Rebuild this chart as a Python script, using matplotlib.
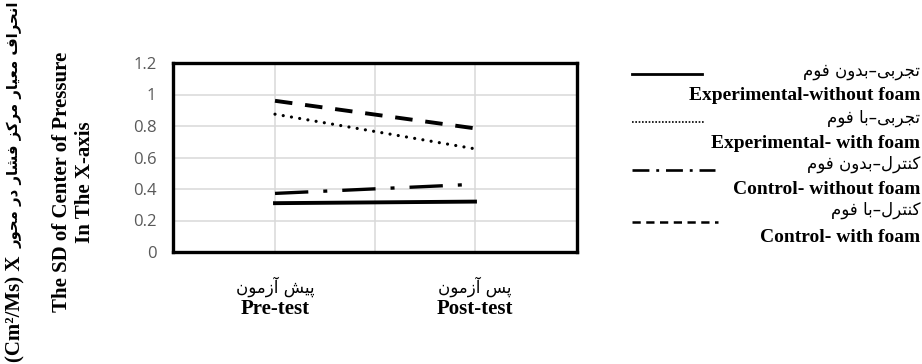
import matplotlib
matplotlib.use('Agg')
import matplotlib.pyplot as plt
from matplotlib.lines import Line2D

# data
phases_fa = ['پیش آزمون', 'پس آزمون']
phases_en = ['Pre-test', 'Post-test']
groups_fa = ['تجربی–بدون فوم', 'تجربی–با فوم', 'کنترل–بدون فوم', 'کنترل–با فوم']
groups_en = ['Experimental-without foam', 'Experimental- with foam',
             'Control- without foam', 'Control- with foam']
exp_no_foam = [0.31, 0.32]
exp_foam = [0.875, 0.655]
ctrl_no_foam = [0.372, 0.43]
ctrl_foam = [0.96, 0.785]
yticks = [0, 0.2, 0.4, 0.6, 0.8, 1, 1.2]
ytick_labels = ['0', '0.2', '0.4', '0.6', '0.8', '1', '1.2']
ylabel_fa = 'انحراف معیار مرکز فشار در محور'
ylabel_unit = '(Cm²/Ms) X'
ylabel_en = ['The SD of Center of Pressure', 'In The X-axis']

# tiny arabic shaper (matplotlib has no shaping / rtl)
FORMS = {
    'ا': (0xFE8D, 0xFE8E), 'آ': (0xFE81, 0xFE82), 'د': (0xFEA9, 0xFEAA),
    'ر': (0xFEAD, 0xFEAE), 'ز': (0xFEAF, 0xFEB0), 'و': (0xFEED, 0xFEEE),
    'ب': (0xFE8F, 0xFE90, 0xFE91, 0xFE92), 'پ': (0xFB56, 0xFB57, 0xFB58, 0xFB59),
    'ت': (0xFE95, 0xFE96, 0xFE97, 0xFE98), 'ج': (0xFE9D, 0xFE9E, 0xFE9F, 0xFEA0),
    'ح': (0xFEA1, 0xFEA2, 0xFEA3, 0xFEA4), 'س': (0xFEB1, 0xFEB2, 0xFEB3, 0xFEB4),
    'ش': (0xFEB5, 0xFEB6, 0xFEB7, 0xFEB8), 'ع': (0xFEC9, 0xFECA, 0xFECB, 0xFECC),
    'ف': (0xFED1, 0xFED2, 0xFED3, 0xFED4), 'ک': (0xFB8E, 0xFB8F, 0xFB90, 0xFB91),
    'ل': (0xFEDD, 0xFEDE, 0xFEDF, 0xFEE0), 'م': (0xFEE1, 0xFEE2, 0xFEE3, 0xFEE4),
    'ن': (0xFEE5, 0xFEE6, 0xFEE7, 0xFEE8), 'ی': (0xFBFC, 0xFBFD, 0xFBFE, 0xFBFF),
}


def fa(s):
    out = []
    for i, c in enumerate(s):
        if c not in FORMS:
            out.append(c)
            continue
        f = FORMS[c]
        prev = s[i - 1] if i > 0 else None
        nxt = s[i + 1] if i + 1 < len(s) else None
        jp = prev in FORMS and len(FORMS[prev]) == 4
        jn = len(f) == 4 and nxt in FORMS
        idx = 3 if (jp and jn) else 1 if jp else 2 if jn else 0
        out.append(chr(f[idx]))
    return ''.join(reversed(out))


SERIF = ['Liberation Serif', 'DejaVu Sans']
FA = ['DejaVu Sans']

fig = plt.figure(figsize=(9.22, 3.64), dpi=100)
ax = fig.add_axes([173 / 922, 1 - 252 / 364, 404 / 922, 189 / 364])

x = [0, 1]
styles = [
    dict(ls='-', lw=2.8),
    dict(ls=(0, (0.01, 2.6)), lw=2.3, dash_capstyle='round'),
    dict(ls=(0, (10, 4.5, 1.2, 4.5)), lw=2.4),
    dict(ls=(0, (4.5, 3.3)), lw=2.8),
]
series = [exp_no_foam, exp_foam, ctrl_no_foam, ctrl_foam]
for vals, st in zip(series, styles):
    ax.plot(x, vals, color='black', zorder=3, **st)

ax.set_xlim(-0.51, 1.51)
ax.set_ylim(0, 1.2)
ax.set_yticks(yticks)
ax.set_yticklabels(ytick_labels, fontfamily='Open Sans', fontsize=12, color='#595959')
ax.set_xticks(x)
ax.set_xticks([0.5], minor=True)
ax.set_xticklabels([])
ax.tick_params(axis='both', which='both', length=0)
ax.tick_params(axis='y', pad=12)
ax.grid(True, which='both', color='#d9d9d9', lw=1.1, zorder=0)
for sp in ax.spines.values():
    sp.set_linewidth(2.4)
    sp.set_color('black')

trans = ax.get_xaxis_transform()
for xi, lf, le in zip(x, phases_fa, phases_en):
    ax.text(xi, -0.185, fa(lf), transform=trans, ha='center', va='center',
            family=FA, fontsize=12)
    ax.text(xi, -0.3, le, transform=trans, ha='center', va='center',
            family=SERIF, fontsize=15, fontweight='bold')

# y label, three rotated lines (persian one split in two parts)
fig.text(15 / 922, 2 / 364, ylabel_unit, rotation=90, ha='center', va='bottom',
         family=SERIF, fontsize=15, fontweight='bold')
fig.text(15 / 922, 1 - 2 / 364, fa(ylabel_fa), rotation=90, ha='center', va='top',
         family=FA, fontsize=10.7, fontweight='bold')
fig.text(62 / 922, 0.5, ylabel_en[0], rotation=90, ha='center', va='center',
         family=SERIF, fontsize=15, fontweight='bold')
fig.text(85 / 922, 0.5, ylabel_en[1], rotation=90, ha='center', va='center',
         family=SERIF, fontsize=15, fontweight='bold')

# legend drawn by hand in pixel coords
lax = fig.add_axes([0, 0, 1, 1])
lax.set_xlim(0, 922)
lax.set_ylim(364, 0)
lax.axis('off')
leg_styles = [
    dict(ls='-', lw=2.0),
    dict(ls=(0, (1.0, 1.0)), lw=1.2),
    dict(ls=(0, (6.4, 2.6, 1.1, 2.6)), lw=1.9),
    dict(ls=(0, (3.3, 2.2)), lw=1.8),
]
sample_y = [74, 122, 170, 222]
sample_x2 = [702, 705, 715, 718]
fa_y = [71, 118, 164, 210]
en_y = [96, 143, 189, 238]
for i in range(4):
    lax.add_line(Line2D([632, sample_x2[i]], [sample_y[i]] * 2, color='black', **leg_styles[i]))
    lax.text(920, fa_y[i], fa(groups_fa[i]), ha='right', va='center', family=FA, fontsize=12)
    lax.text(920, en_y[i], groups_en[i], ha='right', va='center', family=SERIF,
             fontsize=14, fontweight='bold')

fig.savefig('out.png', dpi=100)
